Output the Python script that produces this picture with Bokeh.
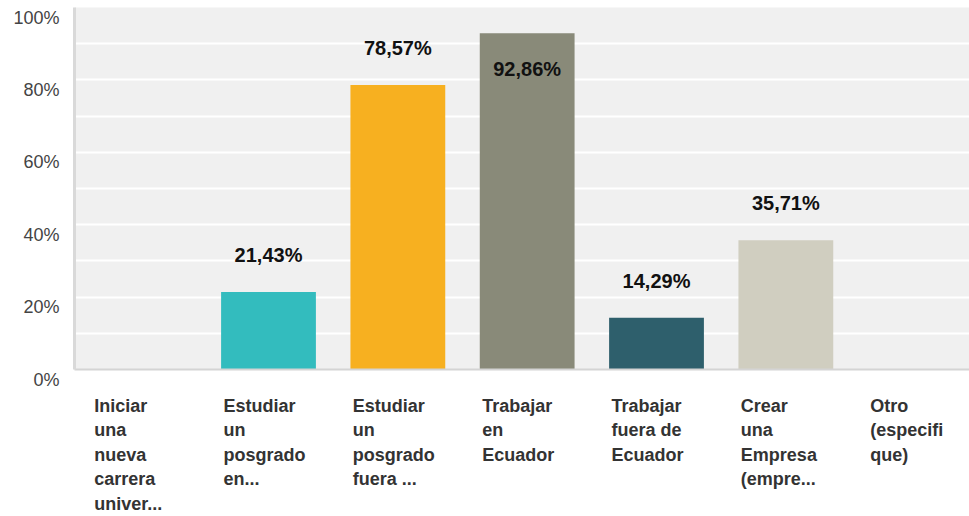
from bokeh.plotting import figure
from bokeh.layouts import row, column
from bokeh.models import ColumnDataSource, Range1d, FixedTicker, LabelSet
from bokeh.core.properties import value
from bokeh.embed import file_html
from bokeh.resources import INLINE

# ---- data ----
categories = [
    "Iniciar\nuna\nnueva\ncarrera\nuniver...",
    "Estudiar\nun\nposgrado\nen...",
    "Estudiar\nun\nposgrado\nfuera ...",
    "Trabajar\nen\nEcuador",
    "Trabajar\nfuera de\nEcuador",
    "Crear\nuna\nEmpresa\n(empre...",
    "Otro\n(especifi\nque)",
]
values = [0.0, 21.43, 78.57, 92.86, 14.29, 35.71, 0.0]
value_labels = ["", "21,43%", "78,57%", "92,86%", "14,29%", "35,71%", ""]
colors = ["#33BCBE", "#33BCBE", "#F7B020", "#898A79", "#2E5F6C", "#D0CEC0", "#33BCBE"]
y_ticks = [0, 20, 40, 60, 80, 100]
y_tick_labels = ["0%", "20%", "40%", "60%", "80%", "100%"]
grid_ticks = [10, 20, 30, 40, 50, 60, 70, 80, 90]

# ---- layout constants (pixels) ----
W, H = 969, 516
LEFT_W = 70          # width of the y-label strip
FRAME_TOP = 7
FRAME_H = 362
MAIN_H = 380
PX_PER_UNIT = FRAME_H / 100.0

idx = list(range(len(categories)))
bar_w = 0.733
label_offsets = [37 if v < 85 else -36 for v in values]

src = ColumnDataSource(dict(x=idx, top=values, color=colors, lab=value_labels, yoff=label_offsets))

x_rng = Range1d(-0.5, 6.42)

# ---- main plot ----
p = figure(width=W - LEFT_W, height=MAIN_H, output_backend="svg", toolbar_location=None,
           x_range=x_rng, y_range=Range1d(0, 100),
           min_border_left=4, min_border_right=0, min_border_top=FRAME_TOP,
           min_border_bottom=MAIN_H - FRAME_TOP - FRAME_H)
p.background_fill_color = "#F0F0F0"
p.border_fill_color = "white"
p.outline_line_color = None

p.vbar(x="x", top="top", width=bar_w, bottom=0, color="color", line_color=None, source=src)

labels = LabelSet(x="x", y="top", text="lab", y_offset="yoff", source=src,
                  text_align="center", text_baseline="middle",
                  text_font=value("Liberation Sans"), text_font_style="bold",
                  text_font_size="20px", text_color="#111111")
p.add_layout(labels)

p.xgrid.visible = False
p.ygrid.ticker = FixedTicker(ticks=grid_ticks)
p.ygrid.grid_line_color = "white"
p.ygrid.grid_line_width = 2

for ax in (p.yaxis, p.xaxis):
    ax.ticker = FixedTicker(ticks=[])
    ax.major_tick_line_color = None
    ax.minor_tick_line_color = None
    ax.major_label_standoff = 0
p.yaxis.axis_line_color = "#D9D9D9"
p.yaxis.axis_line_width = 3
p.xaxis.axis_line_color = "#D4D4D4"
p.xaxis.axis_line_width = 2

# ---- y tick label strip (same scale as the main plot) ----
y_lo = -(H - FRAME_TOP - FRAME_H) / PX_PER_UNIT
y_hi = 100 + FRAME_TOP / PX_PER_UNIT
p0 = figure(width=LEFT_W, height=H, output_backend="svg", toolbar_location=None,
            x_range=Range1d(0, 1), y_range=Range1d(y_lo, y_hi),
            x_axis_type=None, y_axis_type=None,
            min_border_left=0, min_border_right=0, min_border_top=0, min_border_bottom=0)
p0.background_fill_color = "white"
p0.border_fill_color = "white"
p0.outline_line_color = None
p0.grid.visible = False
ysrc = ColumnDataSource(dict(y=y_ticks, t=y_tick_labels))
p0.text(x=1, y="y", text="t", source=ysrc, x_offset=-11,
        text_align="right", text_baseline="top",
        text_font=value("Liberation Sans"), text_font_size="18px", text_color="#444444")

# ---- category label strip (same x scale as the main plot) ----
p2 = figure(width=W - LEFT_W, height=H - MAIN_H, output_backend="svg", toolbar_location=None,
            x_range=x_rng, y_range=Range1d(-1, 0),
            x_axis_type=None, y_axis_type=None,
            min_border_left=4, min_border_right=0, min_border_top=15, min_border_bottom=0)
p2.background_fill_color = "white"
p2.border_fill_color = "white"
p2.outline_line_color = None
p2.grid.visible = False
csrc = ColumnDataSource(dict(x=idx, cat=categories))
p2.text(x="x", y=0, text="cat", source=csrc, x_offset=-45,
        text_align="left", text_baseline="top",
        text_font=value("Liberation Sans"), text_font_style="bold",
        text_font_size="18px", text_color="#333333", text_line_height=1.23)

layout = row(p0, column(p, p2, spacing=0), spacing=0)

open("out.html", "w").write(file_html(layout, INLINE))
